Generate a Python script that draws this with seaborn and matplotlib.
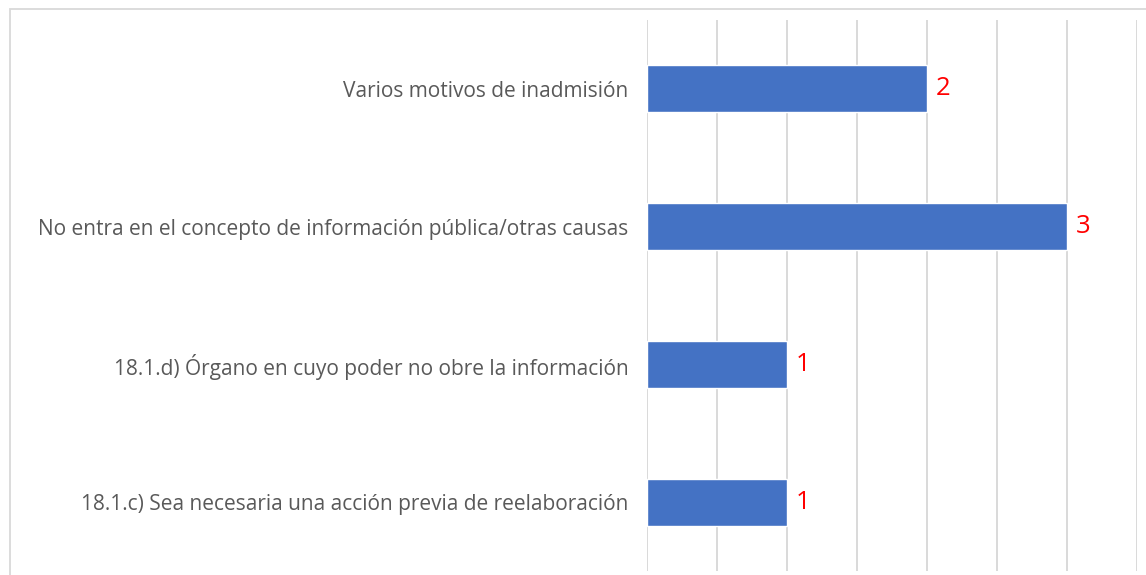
import matplotlib
matplotlib.use("Agg")
import matplotlib.pyplot as plt
import seaborn as sns
import pandas as pd
from matplotlib.patches import Rectangle

categories = [
    "Varios motivos de inadmisión",
    "No entra en el concepto de información pública/otras causas",
    "18.1.d) Órgano en cuyo poder no obre la información",
    "18.1.c) Sea necesaria una acción previa de reelaboración",
]
values = [2, 3, 1, 1]

df = pd.DataFrame({"cat": categories, "val": values})

sns.set_theme(style="white")
plt.rcParams["font.family"] = ["Open Sans", "DejaVu Sans"]

W, H = 1146, 575
fig = plt.figure(figsize=(W / 100, H / 100), dpi=100)
ax = fig.add_axes([647 / W, 1 - 571 / H, (1137 - 647) / W, (571 - 20) / H])

# chart border
fig.patches.append(Rectangle((10 / W, -0.1), 1.2, 1 + 0.1 - 8.5 / H, transform=fig.transFigure,
                             fill=False, edgecolor="#d9d9d9", linewidth=1.3, zorder=0))

sns.barplot(data=df, x="val", y="cat", orient="h", color="#4472C4", saturation=1,
            width=0.34, ax=ax, zorder=3)

ax.set_xlim(0, 3.5)
ax.set_xticks([0, 0.5, 1, 1.5, 2, 2.5, 3, 3.5])
ax.xaxis.grid(True, color="#d9d9d9", linewidth=1.4)
ax.set_axisbelow(True)
ax.tick_params(axis="x", length=0, labelbottom=False)
ax.tick_params(axis="y", length=0, pad=13.5, labelsize=15, labelcolor="#595959")
ax.set_xlabel("")
ax.set_ylabel("")
for s in ax.spines.values():
    s.set_visible(False)

for cont in ax.containers:
    ax.bar_label(cont, labels=[str(v) for v in values], padding=6.5, color="#FF0000", fontsize=18.5)

fig.savefig("out.png", dpi=100)
